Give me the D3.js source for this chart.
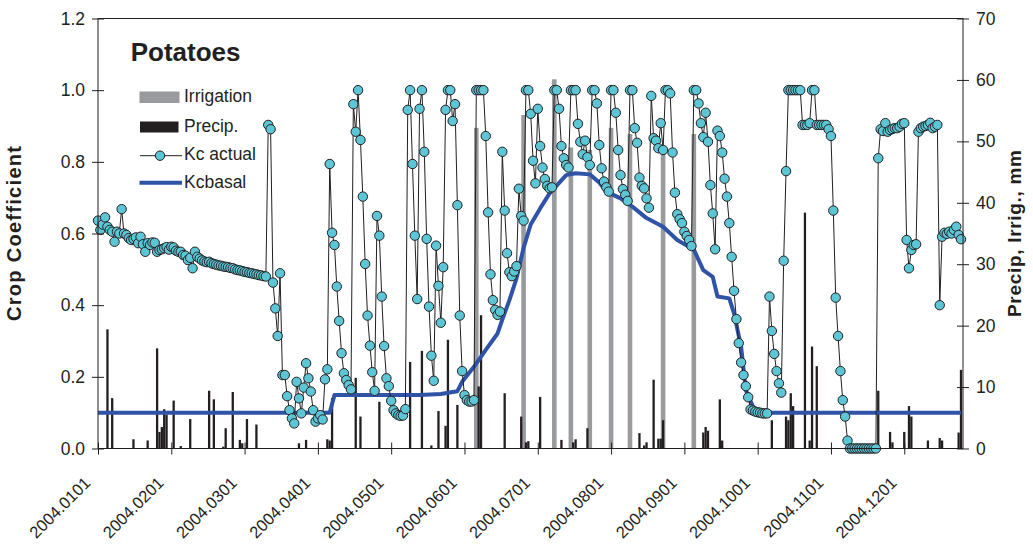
<!DOCTYPE html>
<html><head><meta charset="utf-8">
<script src="https://cdn.jsdelivr.net/npm/d3@7/dist/d3.min.js"></script>
<style>
body{margin:0;background:#fff}
svg{display:block}
text{font-family:"Liberation Sans",Arial,Helvetica,sans-serif}
</style>
</head><body>
<svg id="chart" width="1033" height="551"></svg>
<script>
// ---------------- DATA ----------------
// Daily Kc actual, day 0 = 2004-01-01
const kcActual = [
.636,.61,.625,.645,.619,.61,.605,.577,.605,.60,
.668,.60,.596,.587,.582,.585,.589,.573,.591,.57,
.549,.573,.568,.575,.574,.549,.554,.556,.559,.562,
.555,.563,.561,.552,.549,.549,.54,.538,.526,.532,
.503,.549,.535,.53,.525,.522,.52,.521,.517,.515,
.513,.511,.51,.508,.507,.506,.504,.503,.50,.498,
.497,.495,.493,.492,.49,.489,.487,.486,.484,.483,
.481,.48,.903,.891,.463,.391,.314,.489,.205,.205,
.146,.107,.084,.07,.186,.14,.098,.17,.238,.196,
.159,.107,.075,.084,.093,.081,.193,.221,.794,.602,
.568,.452,.356,.266,.21,.191,.177,.165,.961,.884,
1,.861,.703,.515,.371,.287,.213,.161,.649,.594,
.424,.286,.196,.174,.133,.107,.098,.093,.091,.092,
.11,.945,1,.794,.594,.417,.948,1,.828,.585,
.396,.259,.189,.566,.454,.351,.506,.945,1,1,
.914,.961,.679,.371,.216,.149,.135,.131,.131,.135,
1,1,1,1,.872,.659,.486,.414,.387,.373,
.382,.828,.664,.545,.492,.481,.494,.509,.725,.649,
.636,1,1,.934,.803,.74,.948,.844,.784,.752,
.733,.726,.729,1,1,.948,.844,.81,.791,.784,
1,1,1,.906,.856,.821,.859,.813,.791,1,
1,.963,.847,.782,.745,.729,.717,1,1,.937,
.833,.763,.724,.708,.691,1,1,.894,.853,.756,
.733,.726,.698,.672,.984,.866,.859,.838,.908,.833,
1,1,.991,.826,.714,.654,.64,.629,.605,.593,
.582,.565,1,1,.963,.908,.869,.937,.856,.735,
.656,.556,.887,.872,.826,.753,.703,.629,.535,.44,
.361,.294,.24,.205,.174,.143,.109,.106,.103,.101,
.1,.098,.098,.098,.424,.328,.264,.216,.182,.156,
.524,.774,1,1,1,1,1,1,.903,.903,
.903,.908,1,1,.903,.903,.903,.903,.903,.891,
.872,.664,.421,.314,.216,.135,.089,.022,0,0,
0,0,0,0,0,0,0,0,0,0,
.81,.891,.886,.908,.884,.889,.892,.894,.894,.898,
.906,.908,.582,.503,.554,.568,.57,.884,.894,.898,
.9,.903,.909,.894,.898,.903,.4,.591,.602,.599,
.605,.6,.61,.619,.596,.584
];

// Kc basal (read at its vertices)
const kcBasalDays   = [0,98,100,136,145,152,154,159,164,169,171,174,177,180,183,187,191,198,202,208,212,215,221,226,232,239,245,252,256,260,262,267,269,272,274,277,279,365];
const kcBasalValues = [0.10,0.10,0.149,0.149,0.152,0.160,0.186,0.228,0.275,0.321,0.36,0.414,0.475,0.56,0.625,0.67,0.712,0.763,0.768,0.765,0.742,0.717,0.698,0.675,0.643,0.619,0.582,0.555,0.498,0.479,0.424,0.419,0.377,0.284,0.163,0.117,0.10,0.10];

// Irrigation (mm)
const irrigationDays = [160,180,193,200,208,217,225,239,252];
const irrigationMm   = [52.2,54.3,60.1,49.0,48.6,52.2,51.2,48.2,51.2];

// Precipitation (mm)
const precipDays = [4,6,15,21,25,26,27,28,29,32,35,39,47,49,53,54,57,60,61,63,67,85,88,97,98,99,109,111,119,132,137,141,144,147,148,152,161,162,172,179,181,182,187,196,201,202,207,229,231,232,235,237,238,239,256,257,258,263,264,285,291,292,293,294,299,301,302,304,330,335,336,341,343,344,351,356,357,364,365];
const precipMm   = [19.4,8.2,1.5,1.3,16.3,2.7,3.5,6.4,5.5,7.8,0.4,4.8,9.4,8.0,0.3,3.3,9.2,1.4,0.85,4.8,3.9,0.85,1.4,1.5,1.3,8.2,11.5,5.2,7.6,14.1,15.9,0.5,6.1,3.7,17.7,7.1,10.1,21.7,9.0,5.2,1.0,1.2,8.4,1.4,1.0,1.5,3.3,2.5,0.5,1.0,11.2,1.6,1.6,4.6,2.6,3.5,2.9,8.0,1.3,4.6,5.2,4.6,9.0,6.9,38.4,1.3,16.6,13.4,9.4,2.7,1.0,2.7,6.9,5.2,1.3,1.7,1.3,2.6,12.8];

// Axis ticks
const xTickDays   = [0,31,62,93,124,155,186,217,248,279,310,341];
const xTickLabels = ["2004.0101","2004.0201","2004.0301","2004.0401","2004.0501","2004.0601","2004.0701","2004.0801","2004.0901","2004.1001","2004.1101","2004.1201"];
const kcTicks = [0,0.2,0.4,0.6,0.8,1.0,1.2];
const mmTicks = [0,10,20,30,40,50,60,70];

const legendLabels = ["Irrigation","Precip.","Kc actual","Kcbasal"];

// ---------------- DRAW ----------------
const ink = "#231F20", grayC = "#999A9E", blueC = "#2F53A7", cyanC = "#5CC6D6";
const L = 98, R = 963, T = 18.5, B = 448.5;
const svg = d3.select("#chart");

const x = d3.scaleLinear().domain([0, 365]).range([L, 961]);
const yKc = d3.scaleLinear().domain([0, 1.2]).range([B, T]);
const yMm = d3.scaleLinear().domain([0, 70]).range([B, T]);

// irrigation bars
svg.append("g").selectAll("rect").data(irrigationDays).join("rect")
  .attr("x", d => x(d) - 2.3).attr("width", 4.6)
  .attr("y", (d,i) => yMm(irrigationMm[i]))
  .attr("height", (d,i) => B - yMm(irrigationMm[i]))
  .attr("fill", grayC);

// precip bars
svg.append("g").selectAll("rect").data(precipDays).join("rect")
  .attr("x", d => x(d) - 1.15).attr("width", 2.3)
  .attr("y", (d,i) => yMm(precipMm[i]))
  .attr("height", (d,i) => B - yMm(precipMm[i]))
  .attr("fill", ink);

// Kc basal
svg.append("path")
  .datum(kcBasalDays.map((d,i) => [d, kcBasalValues[i]]))
  .attr("fill","none").attr("stroke", blueC).attr("stroke-width",4)
  .attr("stroke-linejoin","round")
  .attr("d", d3.line().x(d => x(d[0])).y(d => yKc(d[1])));

// Kc actual
svg.append("path").datum(kcActual)
  .attr("fill","none").attr("stroke", ink).attr("stroke-width",1)
  .attr("d", d3.line().x((d,i) => x(i)).y(d => yKc(d)));
svg.append("g").selectAll("circle").data(kcActual).join("circle")
  .attr("cx", (d,i) => x(i)).attr("cy", d => yKc(d)).attr("r", 4.7)
  .attr("fill", cyanC).attr("stroke", ink).attr("stroke-width", 1);

// frame
svg.append("rect").attr("x", L).attr("y", T).attr("width", R - L).attr("height", B - T)
  .attr("fill","none").attr("stroke", ink).attr("stroke-width", 1);

// axes
function styleAxis(g){
  g.attr("font-family", null).attr("font-size", null);
  g.select(".domain").remove();
  g.selectAll(".tick line").attr("stroke", ink);
  g.selectAll(".tick text").attr("fill", ink).attr("font-size", 17.5);
}
const gL = svg.append("g").attr("transform", `translate(${L},0)`)
  .call(d3.axisLeft(yKc).tickValues(kcTicks).tickFormat(d3.format(".1f")).tickSize(6).tickPadding(7));
styleAxis(gL);
gL.selectAll(".tick line").attr("x1", 6).attr("x2", -6);

const gR = svg.append("g").attr("transform", `translate(${R},0)`)
  .call(d3.axisRight(yMm).tickValues(mmTicks).tickFormat(d3.format("d")).tickSize(6).tickPadding(7));
styleAxis(gR);
gR.selectAll(".tick line").attr("x1", -6).attr("x2", 6);

const gB = svg.append("g").attr("transform", `translate(0,${B})`)
  .call(d3.axisBottom(x).tickValues(xTickDays).tickFormat((d,i) => xTickLabels[i]).tickSize(6));
styleAxis(gB);
gB.selectAll(".tick line").attr("y1", -6).attr("y2", 6);
gB.selectAll(".tick text").attr("font-size", 16.5).attr("text-anchor","end")
  .attr("x", 0).attr("y", 0).attr("dy", 0)
  .attr("transform", "translate(-7,35.5) rotate(-45)");

// axis titles
svg.append("text").attr("transform", `translate(21,${(T+B)/2}) rotate(-90)`)
  .attr("text-anchor","middle").attr("font-weight","bold").attr("font-size",20)
  .attr("textLength",175).attr("lengthAdjust","spacing").attr("fill", ink)
  .text("Crop Coefficient");
svg.append("text").attr("transform", `translate(1021,${(T+B)/2}) rotate(-90)`)
  .attr("text-anchor","middle").attr("font-weight","bold").attr("font-size",19)
  .attr("textLength",167).attr("lengthAdjust","spacing").attr("fill", ink)
  .text("Precip, Irrig., mm");

// title
svg.append("text").attr("x",130.7).attr("y",61).attr("font-weight","bold")
  .attr("font-size",26).attr("fill", ink).text("Potatoes");

// legend
const lg = svg.append("g");
lg.append("rect").attr("x",139.5).attr("y",91.5).attr("width",40).attr("height",11.5).attr("fill",grayC);
lg.append("rect").attr("x",140).attr("y",121.5).attr("width",38.5).attr("height",11).attr("fill",ink);
lg.append("line").attr("x1",140).attr("x2",182).attr("y1",155.7).attr("y2",155.7).attr("stroke",ink).attr("stroke-width",1);
lg.append("circle").attr("cx",160).attr("cy",155.7).attr("r",4.7).attr("fill",cyanC).attr("stroke",ink);
lg.append("line").attr("x1",139.5).attr("x2",182).attr("y1",182.7).attr("y2",182.7).attr("stroke",blueC).attr("stroke-width",4);
const legY = [102, 131.7, 160.3, 188.3];
lg.selectAll("text.lt").data(legendLabels).join("text").attr("class","lt")
  .attr("x",184).attr("y",(d,i)=>legY[i]).attr("font-size",17.5).attr("fill",ink).text(d=>d);
</script>
</body></html>
